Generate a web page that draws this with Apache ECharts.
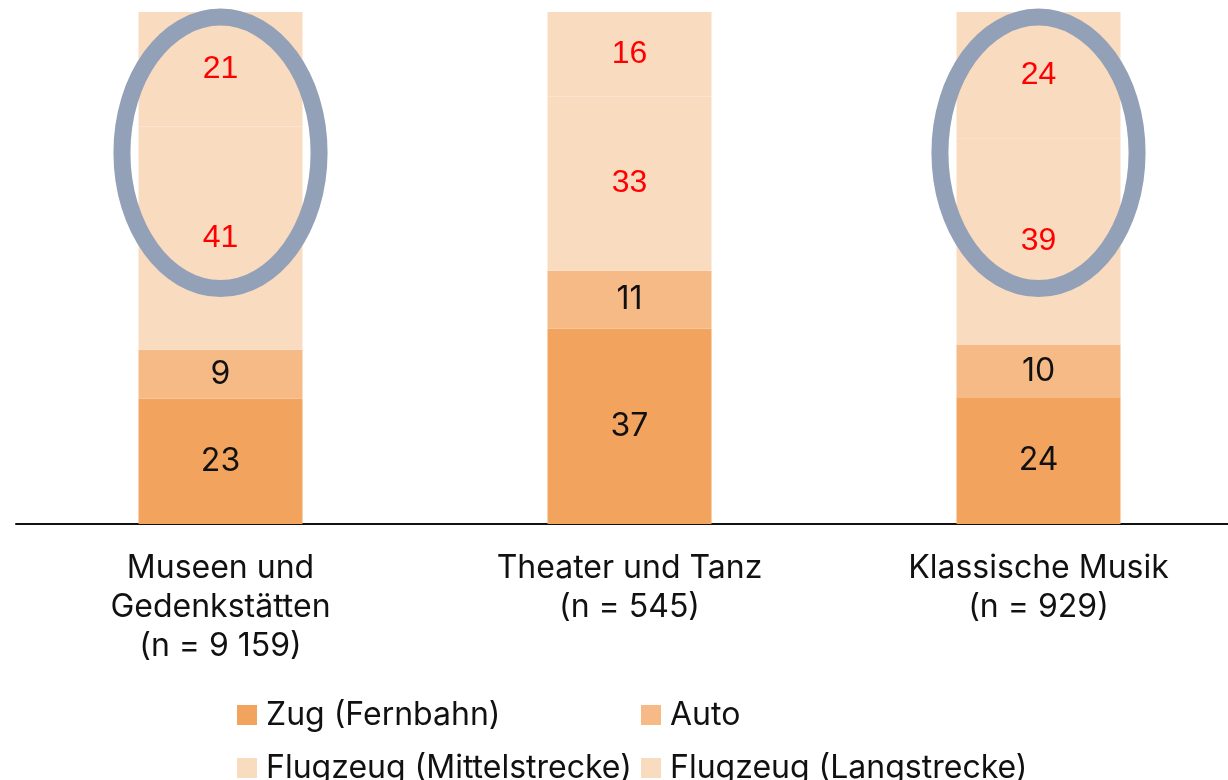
<!DOCTYPE html>
<html>
<head>
<meta charset="utf-8">
<script src="https://cdn.jsdelivr.net/npm/echarts@6/dist/echarts.min.js"></script>
<style>
  html, body { margin: 0; padding: 0; background: #fff; }
  #main { width: 1228px; height: 780px; }
</style>
</head>
<body>
<div id="main"></div>
<script>
// Kategorien (x-Achse)
var categories = ['Museen und\nGedenkstätten\n(n = 9 159)', 'Theater und Tanz\n(n = 545)', 'Klassische Musik\n(n = 929)']
var seriesNames = ['Zug (Fernbahn)', 'Auto', 'Flugzeug (Mittelstrecke)', 'Flugzeug (Langstrecke)']
// Werte in Prozent je Kategorie
var zug = [23, 37, 24]
var auto = [9, 11, 10]
var flugMittel = [41, 33, 39]
var flugLang = [21, 16, 24]
// Markierungen: [Kategorie-Index, oberer Rand %, unterer Rand %]
var highlights = [[0, 99, 46], [2, 99, 46]]

var raw = [zug, auto, flugMittel, flugLang]
var totals = categories.map(function (c, i) {
  return raw.reduce(function (s, arr) { return s + arr[i] }, 0)
})

var colors = ['#f2a45e', '#f6ba86', '#f9dbc0', '#f9dbc0']
var labelColors = ['#111', '#111', '#ff0000', '#ff0000']
var labelFonts = ['Inter, sans-serif', 'Inter, sans-serif', '"Liberation Sans", Arial, sans-serif', '"Liberation Sans", Arial, sans-serif']
var textFont = 'Inter, Roboto, sans-serif'

var chart = echarts.init(document.getElementById('main'), null, { renderer: 'canvas' })

var barSeries = raw.map(function (arr, k) {
  return {
    name: seriesNames[k],
    type: 'bar',
    stack: 'total',
    barWidth: 164,
    itemStyle: { color: colors[k] },
    label: {
      show: true,
      position: 'inside',
      color: labelColors[k],
      fontSize: 32,
      fontFamily: labelFonts[k],
      formatter: function (p) { return arr[p.dataIndex] }
    },
    emphasis: { disabled: true },
    // normiert auf 100 % je Balken
    data: arr.map(function (v, i) { return v / totals[i] * 100 })
  }
})

var legendText = { fontSize: 32, lineHeight: 34, color: '#111', fontFamily: textFont, padding: [0, 0, 0, 4] }

var option = {
  animation: false,
  color: colors,
  grid: { left: 16, width: 1227, top: 12, bottom: 256, outerBoundsMode: 'none', containLabel: false },
  legend: [
    {
      orient: 'vertical',
      left: 232,
      top: 693,
      height: 120,
      icon: 'rect',
      itemWidth: 20,
      itemHeight: 20,
      itemGap: 19,
      data: ['Zug (Fernbahn)', 'Flugzeug (Mittelstrecke)'],
      textStyle: legendText
    },
    {
      orient: 'vertical',
      left: 636,
      top: 693,
      height: 120,
      icon: 'rect',
      itemWidth: 20,
      itemHeight: 20,
      itemGap: 19,
      data: ['Auto', 'Flugzeug (Langstrecke)'],
      textStyle: legendText
    }
  ],
  xAxis: {
    type: 'category',
    data: categories,
    axisLine: { lineStyle: { color: '#111', width: 2 } },
    axisTick: { show: false },
    axisLabel: {
      margin: 25,
      fontSize: 32,
      lineHeight: 39,
      color: '#111',
      fontFamily: textFont,
      interval: 0
    }
  },
  yAxis: {
    type: 'value',
    min: 0,
    max: 100,
    show: false,
    splitLine: { show: false }
  },
  series: barSeries.concat([{
    name: 'markierung',
    type: 'custom',
    clip: false,
    z: 10,
    silent: true,
    renderItem: function (params, api) {
      var top = api.coord([api.value(0), api.value(1)])
      var bottom = api.coord([api.value(0), api.value(2)])
      var band = api.size([1, 0])[0]
      return {
        type: 'ellipse',
        shape: {
          cx: top[0],
          cy: (top[1] + bottom[1]) / 2,
          rx: band * 0.241,
          ry: (bottom[1] - top[1]) / 2
        },
        style: { fill: 'none', stroke: '#93a1b8', lineWidth: 17 }
      }
    },
    data: highlights
  }])
}

chart.setOption(option)
</script>
</body>
</html>
